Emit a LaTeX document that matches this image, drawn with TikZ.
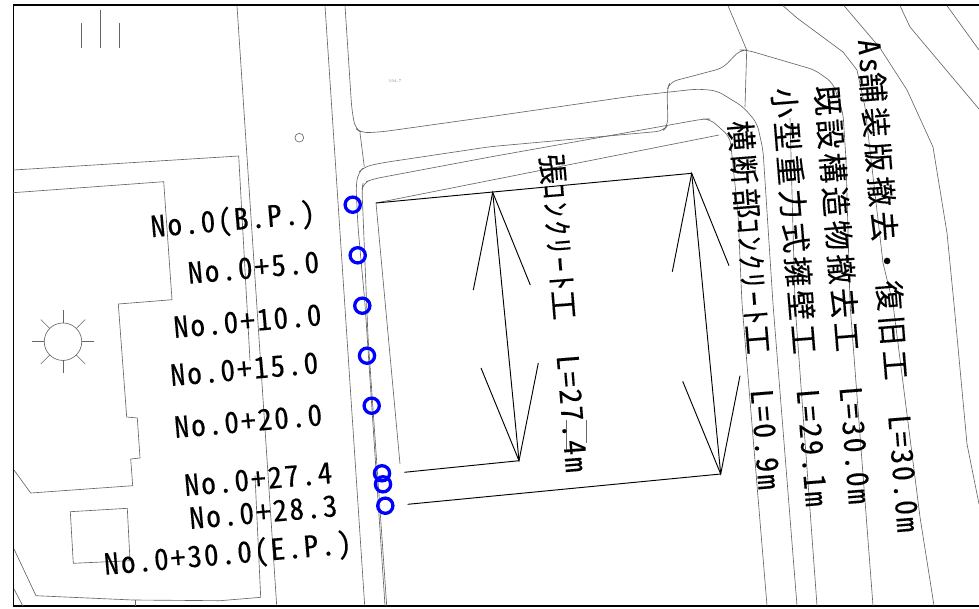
\documentclass[tikz,border=0pt]{standalone}
\usepackage{fontspec}
\usepackage{tikz}
\newfontfamily\cadfont[RawFeature=+hwid,LetterSpace=7,FakeBold=0.2]{Noto Sans CJK JP}
\newfontfamily\cadkanji[LetterSpace=13,FakeBold=0.2]{Noto Sans CJK JP}
\newfontfamily\cadkanjiw[LetterSpace=16,FakeBold=0.2]{Noto Sans CJK JP}
\newfontfamily\cadkana[RawFeature=+hwid,LetterSpace=11,FakeBold=0.2]{Noto Sans CJK JP}

\begin{document}
\begin{tikzpicture}[
    x=0.03cm, y=-0.03cm,
    road/.style={draw=black!60, line width=0.55pt, line join=round},
    curb/.style={road, rounded corners=6pt},
    dimline/.style={draw=black, line width=0.8pt},
    station/.style={circle, draw=blue, line width=2.8pt, minimum size=13pt, inner sep=0pt},
    stalabel/.style={font=\fontsize{25pt}{26pt}\cadfont, rotate=5, inner sep=0pt},
    worklabel/.style={font=\fontsize{25.6pt}{26pt}\cadfont, rotate=-85.4, inner sep=0pt}
]
    \useasboundingbox (0,0) rectangle (979,608);

    % Frame
    \draw[line width=0.9pt] (979,5) -- (13.5,5) -- (13.5,606) -- (979,606);

    % Trees and lamp
    \draw[road] (81,23) -- (81,48);
    \draw[road] (100,10) -- (100,48);
    \draw[road] (119,23) -- (119,48);
    \node[circle, draw=black!60, line width=0.55pt, minimum size=7.5pt, inner sep=0pt] (lamp) at (299.3,137.7) {};
    \node[font=\fontsize{3.5pt}{4pt}\selectfont, text=black!50, inner sep=0pt] (height) at (395,80.7) {194.7};

    % Sun mark
    \node[circle, draw=black!60, line width=0.55pt, minimum size=32pt, inner sep=0pt] (sun) at (63,341.7) {};
    \foreach \ang in {0,45,...,315} {
        \draw[road] (sun) ++(\ang:0.56cm) -- ++(\ang:0.38cm);
    }

    % Building
    \draw[road] (13.5,170) -- (238.7,156) -- (250,360.7);
    \draw[road] (13,192.7) -- (163.7,181.7) -- (172,299.7) -- (118.3,304) -- (126.7,417) -- (137.3,418) -- (140,458)
        -- (130.7,459) -- (132.7,485.7) -- (30.7,493) -- (14,470);
    \draw[road] (70.3,511.7) -- (127.3,508.3) -- (130,560.7) -- (73.3,563.3) -- cycle;
    \draw[road] (14,549) -- (36,595.7) -- (133,600) -- (220,600.7) -- (260.7,597.3) -- (255,475.7);
    \draw[road] (135,600) -- (135,605.7);
    \draw[road] (14,589) -- (22.7,605.7);

    % Road edges
    \draw[road] (237,5.7) -- (276.7,605.7);
    \draw[road] (325,5.7) -- (364.7,605.7);
    \draw[curb] (345,5.7) -- (351.7,108) -- (355,128) -- (361.7,133) -- (383,131.7) -- (490,116.7) -- (633,96)
        -- (697,89) -- (717,90.7) -- (743,106.7) -- (757,123) -- (763,150) -- (773,304) -- (797,605.7);
    \draw[road] (360,133) -- (364.3,166.7);
    \draw[curb] (385,605.7) -- (365,304) -- (358,227) -- (356,187) -- (358,173) -- (364.3,166.7) -- (383,162.7)
        -- (490,146.7) -- (663,131) -- (668,125) -- (667,90) -- (670,82) -- (723,68) -- (740,50) -- (746.7,50)
        -- (815,70) -- (833,83) -- (843,113) -- (846,160) -- (850,304) -- (873,605.7);
    \draw[curb] (386.7,605.7) -- (368,337) -- (362,190) -- (363,183) -- (373,179) -- (490,157) -- (703,119)
        -- (710,119) -- (730,137) -- (738,213) -- (742,304) -- (767,605.7);
    \draw[road] (400,464) -- (376,203) -- (719,135);
    \draw[road] (728,5.7) -- (746.7,50) -- (745,107);
    \draw[road] (795,304) -- (790,118);
    \draw[road] (795,304) -- (817,605.7);
    \draw[road] (566,420) -- (566,450);
    \draw[road] (586.7,420) -- (586.7,443);

    % Slope lines
    \draw[road] (783,5.7) -- (797,18) -- (843,52) -- (857,70) -- (865,107) -- (883,263) -- (893,304) -- (920,517) -- (934,605.7);
    \draw[road] (844,5.7) -- (880,48) -- (907,90) -- (933,147) -- (947,233) -- (954,304) -- (967,444) -- (979,504);
    \draw[road] (900,5.7) -- (910,27) -- (979,109);
    \draw[road] (947,5.7) -- (979,50);

    % Dimension of the concrete
    \draw[dimline] (376,203) -- (691.7,173.3);
    \draw[dimline] (404.3,472.3) -- (519,460.7);
    \draw[dimline] (407.7,504.3) -- (720.7,474);
    \draw[dimline] (492.7,192.3) -- (519,460.7);
    \draw[dimline] (473.3,290) -- (492.7,192.3) -- (530.3,285);
    \draw[dimline] (481,368) -- (519,460.7) -- (538.3,363);
    \draw[dimline] (691.7,173.3) -- (720.7,474);
    \draw[dimline] (672.3,271.7) -- (691.7,173.3) -- (729,265.7);
    \draw[dimline] (682.7,381.3) -- (720.7,474) -- (740,375.7);

    % Stations
    \node[station] (sta0) at (352.7,204.7) {};
    \node[station] (sta5) at (357.7,255.3) {};
    \node[station] (sta10) at (362.3,305.7) {};
    \node[station] (sta15) at (367,355.7) {};
    \node[station] (sta20) at (371.7,405.7) {};
    \node[station] (sta27) at (382,473.3) {};
    \node[station] (sta28) at (383,484.3) {};
    \node[station] (sta30) at (385.3,505.7) {};

    % Station labels
    \node[stalabel] (lab0) at (233,221) {No.0(B.P.)};
    \node[stalabel] (lab5) at (253.5,267.5) {No.0+5.0};
    \node[stalabel] (lab10) at (247.5,321) {No.0+10.0};
    \node[stalabel] (lab15) at (244.3,369) {No.0+15.0};
    \node[stalabel] (lab20) at (248.2,421) {No.0+20.0};
    \node[stalabel] (lab27) at (258.3,479) {No.0+27.4};
    \node[stalabel] (lab28) at (263.3,512) {No.0+28.3};
    \node[stalabel] (lab30) at (228,555) {No.0+30.0(E.P.)};

    % Work labels
    \node[worklabel] (work1) at (564,313) {{\cadkanji 張}{\cadkana ｺﾝｸﾘｰﾄ}{\cadkanji 工}\hspace{1.05cm}L=27.4m};
    \node[worklabel] (work2) at (755,305) {{\cadkanji 横断部}{\cadkana ｺﾝｸﾘｰﾄ}{\cadkanji 工}\hspace{1.05cm}L=0.9m};
    \node[worklabel] (work3) at (800.5,297) {{\cadkanji 小型重力式擁壁工}\hspace{1.05cm}L=29.1m};
    \node[worklabel] (work4) at (843.3,294.5) {{\cadkanji 既設構造物撤去工}\hspace{1.05cm}L=30.0m};
    \node[worklabel] (work5) at (889,285.7) {{\cadkana As}{\cadkanjiw 舗装版撤去・復旧工}\hspace{1.05cm}L=30.0m};
\end{tikzpicture}
\end{document}
